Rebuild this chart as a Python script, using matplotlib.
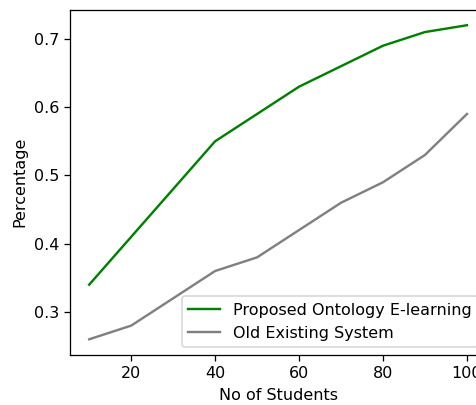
import matplotlib
matplotlib.use('Agg')
import matplotlib.pyplot as plt

# Data
students = [10, 20, 30, 40, 50, 60, 70, 80, 90, 100]
proposed = [0.34, 0.41, 0.48, 0.55, 0.59, 0.63, 0.66, 0.69, 0.71, 0.72]
existing = [0.26, 0.28, 0.32, 0.36, 0.38, 0.42, 0.46, 0.49, 0.53, 0.59]

# reference looks like an enlarged screenshot, so render at a higher dpi
dpi = 115
fig = plt.figure(figsize=(476 / dpi, 405 / dpi), dpi=dpi)
# axes runs past the right edge, as in the cropped original
ax = fig.add_axes([0.1477, 0.1235, 0.873, 0.853])

ax.plot(students, proposed, color='green', label='Proposed Ontology E-learning')
ax.plot(students, existing, color='gray', label='Old Existing System')
ax.set_xlabel('No of Students')
ax.set_ylabel('Percentage')
ax.legend(loc='lower right')

fig.savefig('out.png', dpi=dpi)
